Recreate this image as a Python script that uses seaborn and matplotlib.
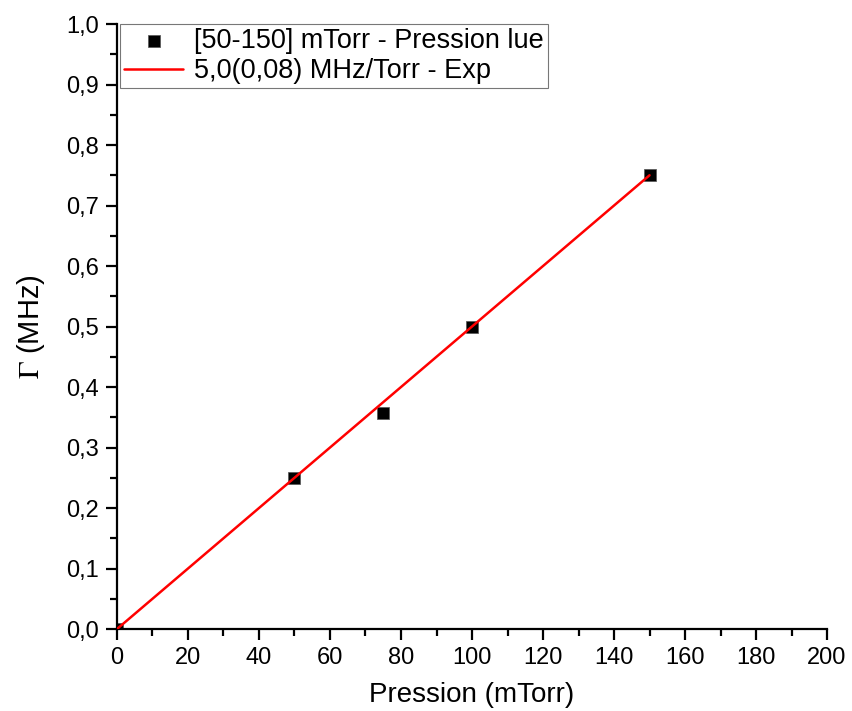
import numpy as np
import pandas as pd
import seaborn as sns
import matplotlib.pyplot as plt
from matplotlib.ticker import MultipleLocator, FuncFormatter

# Measured widths vs pressure
pression = [0, 50, 75, 100, 150]          # mTorr
gamma = [0.0, 0.25, 0.357, 0.50, 0.75]    # MHz

# Linear fit, 5.0 MHz/Torr
fit_x = [0, 150]
fit_y = [0.0, 0.75]

sns.set_style("ticks")
plt.rcParams['font.family'] = ['Liberation Sans', 'DejaVu Sans']
plt.rcParams['mathtext.fontset'] = 'stix'
plt.rcParams['text.color'] = 'black'
plt.rcParams['axes.labelcolor'] = 'black'

df = pd.DataFrame({'p': pression, 'g': gamma})
df_fit = pd.DataFrame({'p': fit_x, 'g': fit_y})

fig = plt.figure(figsize=(8.52, 7.11), dpi=100)
ax = fig.add_axes([0.1373, 0.1153, 0.8334, 0.8509])

sns.scatterplot(data=df, x='p', y='g', ax=ax, marker='s', s=85, color='black',
                edgecolor='#555555', linewidth=0.5, zorder=2,
                label='[50-150] mTorr - Pression lue')
sns.lineplot(data=df_fit, x='p', y='g', ax=ax, color='red', linewidth=1.8,
             zorder=3, label='5,0(0,08) MHz/Torr - Exp')

ax.set_xlim(0, 200)
ax.set_ylim(0, 1.0)
ax.xaxis.set_major_locator(MultipleLocator(20))
ax.xaxis.set_minor_locator(MultipleLocator(10))
ax.yaxis.set_major_locator(MultipleLocator(0.1))
ax.yaxis.set_minor_locator(MultipleLocator(0.05))
ax.xaxis.set_major_formatter(FuncFormatter(lambda v, p: f"{v:.0f}"))
ax.yaxis.set_major_formatter(FuncFormatter(lambda v, p: f"{v:.1f}".replace('.', ',')))

for s in ['top', 'right']:
    ax.spines[s].set_visible(False)
for s in ['left', 'bottom']:
    ax.spines[s].set_linewidth(1.6)
    ax.spines[s].set_color('black')

ax.tick_params(which='major', direction='out', length=8, width=1.6, labelsize=17,
               colors='black', pad=5)
ax.tick_params(which='minor', direction='out', length=5, width=1.6, colors='black')

ax.set_xlabel('Pression (mTorr)', fontsize=20, labelpad=9, color='black')
ax.set_ylabel(r'$\Gamma$ (MHz)', fontsize=21, labelpad=14, color='black')

leg = ax.legend(loc='upper left', fontsize=19.5, frameon=True, fancybox=False,
                handlelength=2.2, handletextpad=0.4, markerscale=1.0,
                borderpad=0.15, labelspacing=0.15, borderaxespad=0,
                bbox_to_anchor=(0.004, 1.0), labelcolor='black')
leg.get_frame().set_edgecolor('#555555')
leg.get_frame().set_linewidth(0.8)

fig.savefig('out.png', dpi=100)
